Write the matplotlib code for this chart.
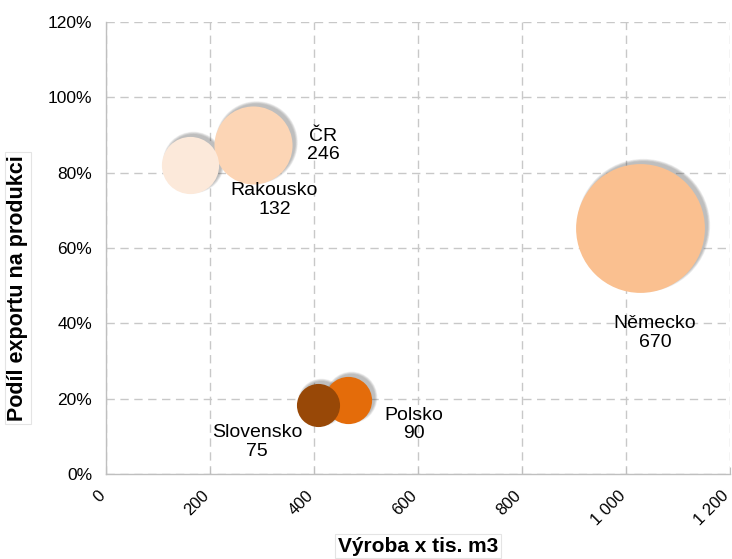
import numpy as np
import matplotlib
matplotlib.use('Agg')
import matplotlib.pyplot as plt
import matplotlib.transforms as mtransforms
from matplotlib.ticker import FuncFormatter

plt.rcParams['font.family'] = ['Liberation Sans', 'DejaVu Sans']

countries = ['ČR', 'Německo', 'Polsko', 'Rakousko', 'Slovensko']
production = [283, 1027, 465, 162, 408]
export_share = [87.4, 65.3, 19.6, 82.0, 18.3]
volume = [246, 670, 90, 132, 75]
colors = ['#FCD5B5', '#FAC090', '#E46C0A', '#FCE9DA', '#984807']
# label offsets in pixels relative to bubble centre
label_offsets = [(70, -1), (15, -105), (66, -24), (84, -35), (-61, -37)]

fig = plt.figure(figsize=(7.32, 5.59), dpi=100)
ax = fig.add_axes([0.145, 0.152, 0.852, 0.809])

scale = 12.84
for i in range(len(countries)):
    s = volume[i] * scale
    d = np.sqrt(s)
    # soft shadow up-right
    off = mtransforms.offset_copy(ax.transData, fig=fig, x=3.0, y=3.0, units='dots')
    for k in range(5):
        ax.scatter(production[i], export_share[i], s=(d + k * 0.8) ** 2,
                   color='#444444', alpha=0.08, lw=0, transform=off, zorder=2 + i * 0.1)
    ax.scatter(production[i], export_share[i], s=s, color=colors[i], lw=0,
               zorder=3 + i * 0.1)
    ax.annotate('%s\n%d' % (countries[i], volume[i]),
                xy=(production[i], export_share[i]),
                xytext=(label_offsets[i][0] * 0.72, label_offsets[i][1] * 0.72),
                textcoords='offset points', ha='center', va='center',
                fontsize=14, linespacing=1.1, zorder=10)

ax.set_xlim(0, 1200)
ax.set_ylim(0, 120)
ax.set_xticks(range(0, 1201, 200))
ax.set_yticks(range(0, 121, 20))
ax.xaxis.set_major_formatter(FuncFormatter(lambda v, p: '{:,}'.format(int(v)).replace(',', ' ')))
ax.yaxis.set_major_formatter(FuncFormatter(lambda v, p: '%d%%' % v))

ax.tick_params(axis='x', direction='in', length=5, color='#bfbfbf', labelsize=12, pad=14)
ax.tick_params(axis='y', length=0, labelsize=12.5, pad=10)

shift = mtransforms.ScaledTranslation(-3 / 100, 0, fig.dpi_scale_trans)
for tick in ax.xaxis.get_major_ticks():
    lbl = tick.label1
    lbl.set_rotation(45)
    lbl.set_ha('right')
    lbl.set_va('center')
    lbl.set_rotation_mode('anchor')
    lbl.set_transform(lbl.get_transform() + shift)

ax.grid(True, color='#c8c8c8', linestyle=(0, (6, 4)), linewidth=1.0)
ax.set_axisbelow(True)
for side in ['top', 'right']:
    ax.spines[side].set_visible(False)
for side in ['left', 'bottom']:
    ax.spines[side].set_color('#bfbfbf')
    ax.spines[side].set_linewidth(1.0)

fig.text(418 / 732, 1 - 546 / 559, 'Výroba x tis. m3', fontsize=15, fontweight='bold',
         ha='center', va='center',
         bbox=dict(fc='white', ec='#e4e4e4', lw=0.8, pad=2))
fig.text(18 / 732, 1 - 288 / 559, 'Podíl exportu na produkci', fontsize=15.5, fontweight='bold',
         ha='center', va='center', rotation=90,
         bbox=dict(fc='white', ec='#e4e4e4', lw=0.8, pad=2))

fig.savefig('out.png', dpi=100)
